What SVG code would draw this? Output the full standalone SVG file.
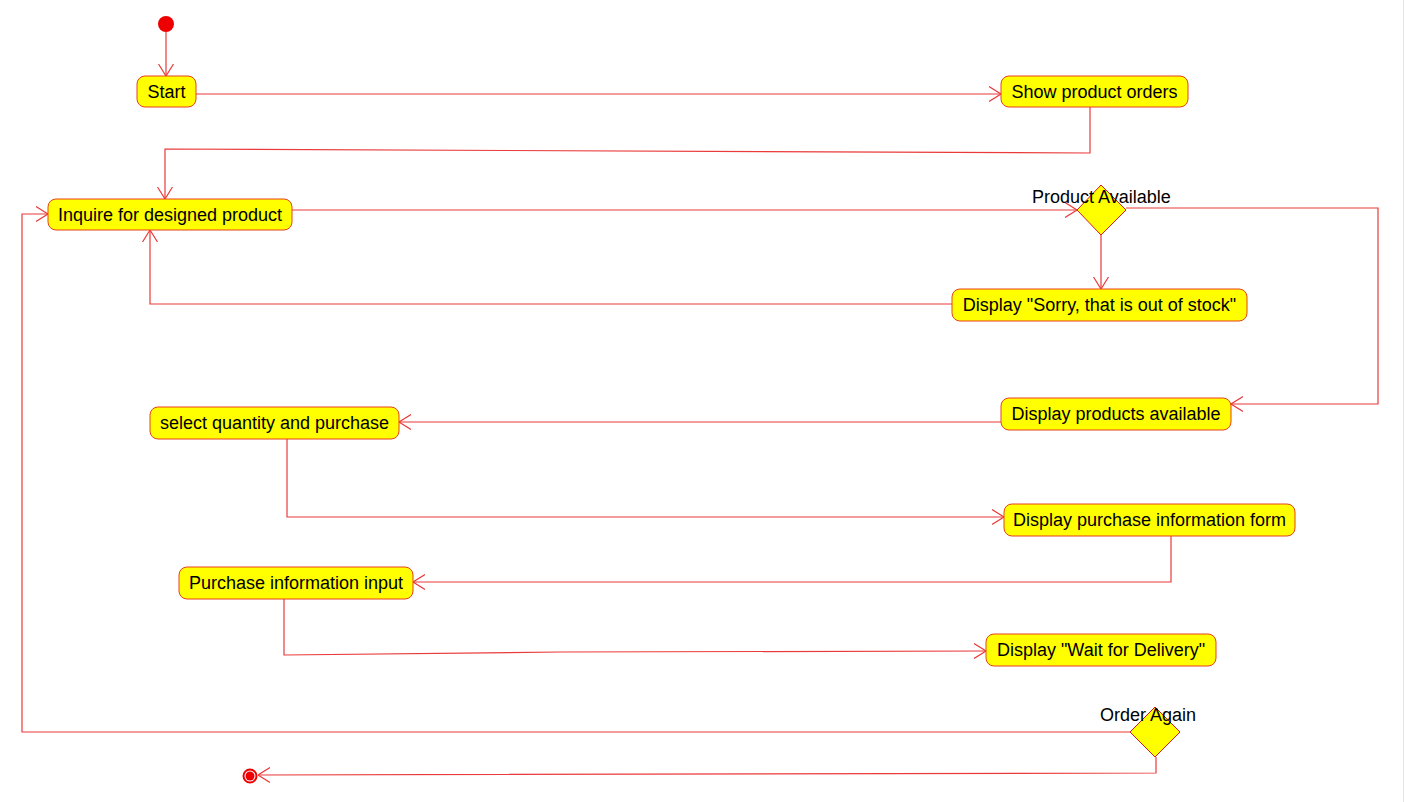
<svg xmlns="http://www.w3.org/2000/svg" width="1405" height="802" viewBox="0 0 1405 802">
<style>
.node rect{fill:#ffff00;stroke:#e8401c;stroke-width:1}
.node text{font-family:"Liberation Sans",Arial,sans-serif;font-size:18px;fill:#000;text-anchor:middle}
.dec polygon{fill:#ffff00;stroke:#d81818;stroke-width:1}
.lbl{font-family:"Liberation Sans",Arial,sans-serif;font-size:18px;fill:#000}
.conn path{fill:none;stroke:#ea3a3a;stroke-width:1.2;marker-end:url(#arr)}
.conn path.plain{marker-end:none}
</style>
<defs>
<marker id="arr" viewBox="0 0 12 16" refX="12" refY="8" markerWidth="12" markerHeight="16" markerUnits="userSpaceOnUse" orient="auto">
<path d="M0,0.5 L12,8 L0,15.5" fill="none" stroke="#ea3a3a" stroke-width="1.2"/>
</marker>
</defs>
<rect width="1405" height="802" fill="#ffffff"/>
<line x1="1403.5" y1="0" x2="1403.5" y2="802" stroke="#e4e4e4" stroke-width="1"/>

<g id="connectors" class="conn">
<path d="M166,32 L166,76"/>
<path d="M196,94 L1001,94"/>
<path d="M1090,107 L1090,153 L165,149 L165,199"/>
<path d="M292,210 L1077,210"/>
<path d="M1101,235 L1101,289"/>
<path d="M952,304 L150,304 L150,230"/>
<path d="M1126,208 L1378,208 L1378,404 L1231,404"/>
<path d="M1001,422 L399,422"/>
<path d="M287,439 L287,517 L1004,517"/>
<path d="M1171,536 L1171,582 L413,582"/>
<path d="M284,599 L284,655 L560,652 L986,651"/>
<path d="M1130,732 L22,732 L22,214 L48,214"/>
<path d="M1156,757 L1156,773 L258,775"/>
</g>

<g id="initial">
<circle cx="166" cy="24" r="8" fill="#ee0000"/>
</g>

<g id="start" class="node">
<rect x="137" y="76" width="59" height="31" rx="8"/>
<text x="166.5" y="98">Start</text>
</g>

<g id="show-orders" class="node">
<rect x="1001" y="76" width="187" height="31" rx="8"/>
<text x="1094.5" y="98">Show product orders</text>
</g>

<g id="inquire" class="node">
<rect x="48" y="199" width="244" height="31" rx="8"/>
<text x="170" y="221">Inquire for designed product</text>
</g>

<g id="product-available" class="dec">
<polygon points="1101,185 1126,210 1101,235 1077,210"/>
<text class="lbl" x="1032" y="203">Product Available</text>
</g>

<g id="out-of-stock" class="node">
<rect x="952" y="289" width="295" height="32" rx="8"/>
<text x="1099.5" y="311">Display "Sorry, that is out of stock"</text>
</g>

<g id="products-available" class="node">
<rect x="1001" y="398" width="230" height="32" rx="8"/>
<text x="1116" y="420">Display products available</text>
</g>

<g id="select-quantity" class="node">
<rect x="150" y="407" width="249" height="32" rx="8"/>
<text x="274.5" y="429">select quantity and purchase</text>
</g>

<g id="purchase-form" class="node">
<rect x="1004" y="504" width="291" height="32" rx="8"/>
<text x="1149.5" y="526">Display purchase information form</text>
</g>

<g id="purchase-input" class="node">
<rect x="179" y="567" width="234" height="32" rx="8"/>
<text x="296" y="589">Purchase information input</text>
</g>

<g id="wait-delivery" class="node">
<rect x="986" y="634" width="230" height="32" rx="8"/>
<text x="1101" y="656">Display "Wait for Delivery"</text>
</g>

<g id="order-again" class="dec">
<polygon points="1155,707 1180,732 1155,757 1130,732"/>
<text class="lbl" x="1100" y="721">Order Again</text>
</g>

<g id="final">
<circle cx="250" cy="776" r="6.5" fill="#ffffff" stroke="#ee0000" stroke-width="2"/>
<circle cx="250" cy="776" r="4.5" fill="#ee0000"/>
</g>
</svg>
